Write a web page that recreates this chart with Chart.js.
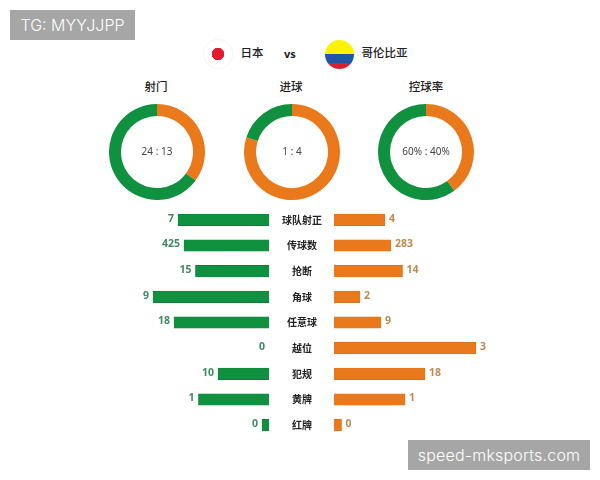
<!DOCTYPE html>
<html lang="zh">
<head>
<meta charset="utf-8">
<title>日本 vs 哥伦比亚</title>
<script src="https://cdn.jsdelivr.net/npm/chart.js@4"></script>
<style>
  html, body { margin: 0; padding: 0; background: #fff; }
  #page { position: relative; width: 600px; height: 480px; overflow: hidden; font-family: "Noto Sans CJK SC", "Noto Sans", sans-serif; }
  canvas { position: absolute; }
  .txt { position: absolute; white-space: nowrap; transform: translate(-50%, -50%); color: #222; font-size: 11.5px; font-weight: 500; line-height: 1; }
  .mark { position: absolute; background: #a6a6a6; color: #fff; font-family: Inter, "Liberation Sans", sans-serif; font-weight: 300; font-size: 16px; line-height: 30px; height: 30px; text-align: center; }
  #flagJp { position: absolute; left: 204px; top: 40px; width: 28px; height: 28px; border-radius: 50%; background: radial-gradient(circle, #e8192c 0 6px, #fff 6.5px); box-shadow: 0 0 2px #ddd; }
  #flagCo { position: absolute; left: 325px; top: 40px; width: 29px; height: 30px; overflow: hidden; }
  #flagCo div { width: 29px; height: 29px; border-radius: 50%; background: linear-gradient(#fef200 0 14px, #1f57a8 14px 22.5px, #d9202f 22.5px); }
</style>
</head>
<body>
<div id="page">
  <div class="mark" style="left:10px;top:10px;width:125px">TG: MYYJJPP</div>
  <div class="mark" style="left:408px;top:440px;width:182px;letter-spacing:.2px">speed-mksports.com</div>

  <div id="flagJp"></div>
  <div class="txt" style="left:252px;top:53px">日本</div>
  <div class="txt" style="left:290px;top:53px;font-weight:700;font-size:11px;font-family:'Noto Sans',sans-serif">vs</div>
  <div id="flagCo"><div></div></div>
  <div class="txt" style="left:384.5px;top:53px">哥伦比亚</div>

  <div class="txt" style="left:156px;top:87px">射门</div>
  <div class="txt" style="left:291px;top:87px">进球</div>
  <div class="txt" style="left:426px;top:87px">控球率</div>

  <canvas id="ring1" style="left:108.5px;top:104px"></canvas>
  <canvas id="ring2" style="left:243.5px;top:104px"></canvas>
  <canvas id="ring3" style="left:378px;top:104px"></canvas>
  <canvas id="barsLeft" style="left:69px;top:207px"></canvas>
  <canvas id="barsRight" style="left:269px;top:189px"></canvas>
</div>

<script>
// ===== warna =====
const green = '#10913f';
const orange = '#e9791a';
const greenText = '#3f8a63';
const orangeText = '#bd8a52';

// ===== data =====
const shots = [13, 24];
const goals = [4, 1];
const possession = [40, 60];
const shotsText = '24 : 13';
const goalsText = '1 : 4';
const possessionText = '60% : 40%';

const categories = ['球队射正', '传球数', '抢断', '角球', '任意球', '越位', '犯规', '黄牌', '红牌'];
const japanLabels = ['7', '425', '15', '9', '18', '0', '10', '1', '0'];
const colombiaLabels = ['4', '283', '14', '2', '9', '3', '18', '1', '0'];
// bar lengths as drawn in the picture (they don't follow the printed numbers)
const japanBars = [91, 85, 73.5, 116, 95, 0, 51, 70.5, 7];
const colombiaBars = [51, 57, 68.5, 26, 47, 142, 91, 71, 7.5];

Chart.defaults.animation = false;
Chart.defaults.responsive = false;

// ===== ring =====
function makeRing(id, values, text) {
  const el = document.getElementById(id);
  el.width = 96;
  el.height = 96;
  new Chart(el, {
    type: 'doughnut',
    data: {
      labels: ['哥伦比亚', '日本'],
      datasets: [{ data: values, backgroundColor: [orange, green], borderWidth: 0 }]
    },
    options: {
      cutout: '75%',
      plugins: { legend: { display: false }, tooltip: { enabled: false } }
    },
    plugins: [{
      id: 'ringText',
      afterDraw(chart) {
        const c = chart.ctx;
        const a = chart.chartArea;
        c.save();
        c.font = '10px "Noto Sans", sans-serif';
        c.fillStyle = '#444';
        c.textAlign = 'center';
        c.textBaseline = 'middle';
        c.fillText(text, (a.left + a.right) / 2, (a.top + a.bottom) / 2 + 0.5);
        c.restore();
      }
    }]
  });
}
makeRing('ring1', shots, shotsText);
makeRing('ring2', goals, goalsText);
makeRing('ring3', possession, possessionText);

// ===== bars =====
function makeBars(id, width, height, values, labels, color, textColor, isLeft) {
  const el = document.getElementById(id);
  el.width = width;
  el.height = height;
  const yAxis = isLeft ? { display: false } : {
    grid: { display: false, drawTicks: false },
    border: { display: false },
    afterFit(axis) { axis.width = 65; },
    ticks: {
      crossAlign: 'center',
      padding: 12,
      color: '#222',
      font: { family: '"Noto Sans CJK SC"', size: 10, weight: 'bold' }
    }
  };
  new Chart(el, {
    type: 'bar',
    data: {
      labels: categories,
      datasets: [{
        data: values,
        backgroundColor: color,
        borderColor: isLeft ? '#0c7a38' : '#d0701f',
        borderWidth: 0.6,
        barThickness: 11.5
      }]
    },
    options: {
      indexAxis: 'y',
      plugins: { legend: { display: false }, tooltip: { enabled: false } },
      scales: {
        x: { display: false, min: 0, max: 200, reverse: isLeft },
        y: yAxis
      }
    },
    plugins: [{
      id: 'barText',
      afterDatasetsDraw(chart) {
        const c = chart.ctx;
        c.save();
        c.font = 'bold 10.5px "Noto Sans", sans-serif';
        c.fillStyle = textColor;
        c.textAlign = isLeft ? 'right' : 'left';
        c.textBaseline = 'middle';
        chart.getDatasetMeta(0).data.forEach((bar, i) => {
          c.fillText(labels[i], bar.x + (isLeft ? -4 : 4), bar.y - 1);
        });
        c.restore();
      }
    }]
  });
}
makeBars('barsLeft', 200, 231, japanBars, japanLabels, green, greenText, true);
makeBars('barsRight', 265, 267, colombiaBars, colombiaLabels, orange, orangeText, false);
</script>
</body>
</html>
